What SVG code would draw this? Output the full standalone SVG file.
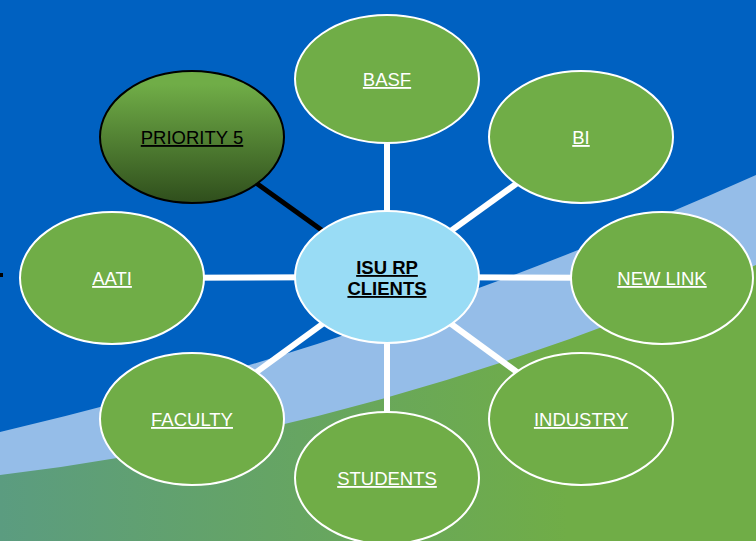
<svg xmlns="http://www.w3.org/2000/svg" width="756" height="541" viewBox="0 0 756 541">
<defs>
<linearGradient id="ground" x1="0" y1="0" x2="1" y2="0">
<stop offset="0" stop-color="#5B9C80"/>
<stop offset="0.75" stop-color="#70AD47"/>
<stop offset="1" stop-color="#70AD47"/>
</linearGradient>
<linearGradient id="prio" x1="0" y1="0" x2="0" y2="1">
<stop offset="0.1" stop-color="#70AD47"/>
<stop offset="1" stop-color="#2F4E1C"/>
</linearGradient>
<style>
.node{fill:#70AD47;stroke:#FFFFFF;stroke-width:2}
.lbl{font-family:"Liberation Sans",Arial,sans-serif;font-size:18.5px;fill:#FFFFFF;text-anchor:middle;text-decoration:underline}
.conn{stroke:#FFFFFF;stroke-width:6}
</style>
</defs>
<rect width="756" height="541" fill="#0061C1"/>
<path d="M0,432 Q378,344 756,175 L756,541 L0,541 Z" fill="#95BDE8"/>
<path d="M0,475 Q378,430 756,265 L756,541 L0,541 Z" fill="url(#ground)"/>
<rect x="0" y="273" width="3" height="4" fill="#000000"/>
<g id="connectors">
<line class="conn" x1="387" y1="277" x2="387" y2="79"/>
<line class="conn" x1="387" y1="277" x2="581" y2="137"/>
<line class="conn" x1="387" y1="277" x2="662" y2="278"/>
<line class="conn" x1="387" y1="277" x2="581" y2="419"/>
<line class="conn" x1="387" y1="277" x2="387" y2="478"/>
<line class="conn" x1="387" y1="277" x2="192" y2="419"/>
<line class="conn" x1="387" y1="277" x2="112" y2="278"/>
<line x1="387" y1="277" x2="192" y2="137" stroke="#000000" stroke-width="5"/>
</g>
<g id="center">
<ellipse cx="387" cy="277" rx="92" ry="66" fill="#99DCF5" stroke="#FFFFFF" stroke-width="2"/>
<text x="387" y="274" font-family="Liberation Sans,Arial,sans-serif" font-size="18.5" font-weight="bold" fill="#000000" text-anchor="middle" text-decoration="underline">ISU RP</text>
<text x="387" y="295" font-family="Liberation Sans,Arial,sans-serif" font-size="18.5" font-weight="bold" fill="#000000" text-anchor="middle" text-decoration="underline">CLIENTS</text>
</g>
<g id="basf">
<ellipse class="node" cx="387" cy="79" rx="92" ry="64"/>
<text class="lbl" x="387" y="86">BASF</text>
</g>
<g id="bi">
<ellipse class="node" cx="581" cy="137" rx="92" ry="66"/>
<text class="lbl" x="581" y="144">BI</text>
</g>
<g id="newlink">
<ellipse class="node" cx="662" cy="278" rx="91" ry="66"/>
<text class="lbl" x="662" y="285">NEW LINK</text>
</g>
<g id="industry">
<ellipse class="node" cx="581" cy="419" rx="92" ry="66"/>
<text class="lbl" x="581" y="426">INDUSTRY</text>
</g>
<g id="students">
<ellipse class="node" cx="387" cy="478" rx="92" ry="66"/>
<text class="lbl" x="387" y="485">STUDENTS</text>
</g>
<g id="faculty">
<ellipse class="node" cx="192" cy="419" rx="92" ry="66"/>
<text class="lbl" x="192" y="426">FACULTY</text>
</g>
<g id="aati">
<ellipse class="node" cx="112" cy="278" rx="92" ry="66"/>
<text class="lbl" x="112" y="285">AATI</text>
</g>
<g id="priority5">
<ellipse cx="192" cy="137" rx="92" ry="66" fill="url(#prio)" stroke="#000000" stroke-width="2"/>
<text class="lbl" x="192" y="144" style="fill:#000000">PRIORITY 5</text>
</g>
</svg>
